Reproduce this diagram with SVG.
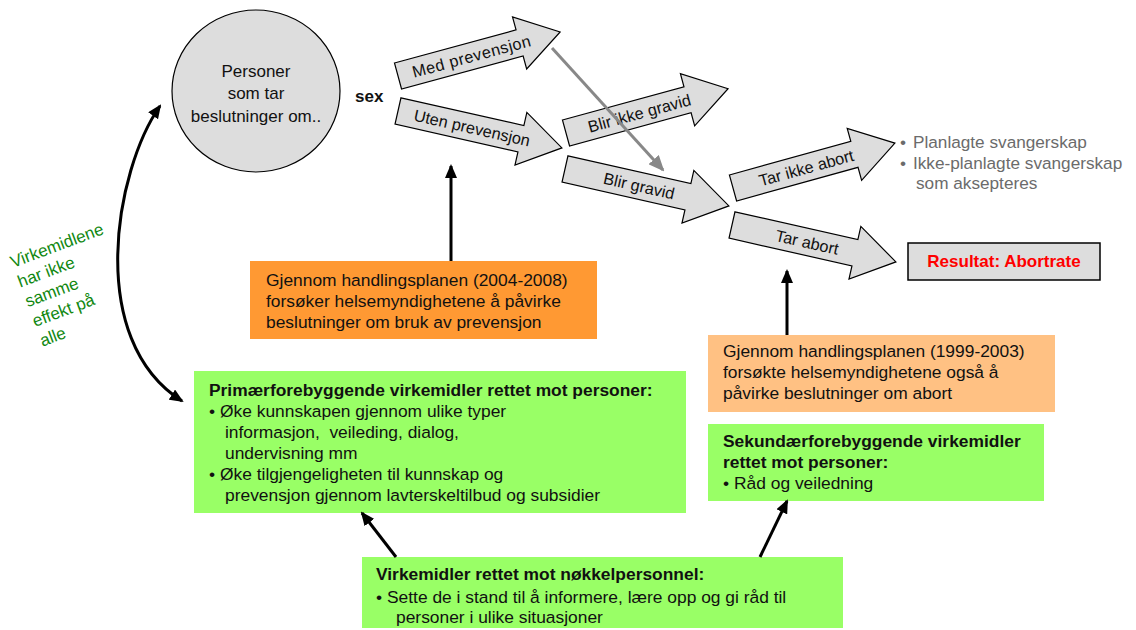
<svg xmlns="http://www.w3.org/2000/svg" width="1136" height="630" viewBox="0 0 1136 630">
<style>
text{font-family:"Liberation Sans",Arial,sans-serif;fill:#111}
.b{font-size:17.4px}
.bb{font-size:17.4px;font-weight:bold}
.at{font-size:16.3px;text-anchor:middle}
.ar{fill:#dddddd;stroke:#000;stroke-width:1.2}
.cn{fill:none;stroke:#000;stroke-width:3}
.gr{fill:#6b6b6b;font-size:17.2px}
</style>
<defs>
<path id="ba" d="M0,-13.5 L126,-13.5 L126,-27 L168,0 L126,27 L126,13.5 L0,13.5 Z"/>
<marker id="mh" viewBox="0 0 14 12" refX="12" refY="6" markerWidth="14" markerHeight="12" markerUnits="userSpaceOnUse" orient="auto-start-reverse">
<path d="M0,0 L14,6 L0,12 Z" fill="#000"/>
</marker>
<marker id="mg" viewBox="0 0 16 14" refX="14" refY="7" markerWidth="16" markerHeight="14" markerUnits="userSpaceOnUse" orient="auto">
<path d="M0,0 L16,7 L0,14 Z" fill="#888"/>
</marker>
</defs>

<g id="personer">
<ellipse cx="256" cy="91" rx="84" ry="81" fill="#dddddd" stroke="#000" stroke-width="1.2"/>
<text x="256" y="77" font-size="17" text-anchor="middle">Personer</text>
<text x="256" y="99" font-size="17" text-anchor="middle">som tar</text>
<text x="256" y="122" font-size="17" text-anchor="middle">beslutninger om..</text>
</g>

<g id="sex"><text x="355" y="102" font-size="17" font-weight="bold">sex</text></g>

<g id="med-prevensjon" transform="translate(398,76) rotate(-15.2)">
<use href="#ba" class="ar"/><text class="at" x="76" y="6" textLength="122">Med prevensjon</text>
</g>
<g id="uten-prevensjon" transform="translate(398,111) rotate(12.7)">
<use href="#ba" class="ar"/><text class="at" x="76" y="6">Uten prevensjon</text>
</g>
<g id="blir-ikke-gravid" transform="translate(566,133) rotate(-15.3)">
<use href="#ba" class="ar"/><text class="at" x="76" y="6">Blir ikke gravid</text>
</g>
<g id="blir-gravid" transform="translate(565,169) rotate(12.7)">
<use href="#ba" class="ar"/><text class="at" x="76" y="6">Blir gravid</text>
</g>
<g id="tar-ikke-abort" transform="translate(733,188) rotate(-15.5)">
<use href="#ba" class="ar"/><text class="at" x="76" y="6">Tar ikke abort</text>
</g>
<g id="tar-abort" transform="translate(732,225) rotate(12.7)">
<use href="#ba" class="ar"/><text class="at" x="77" y="6">Tar abort</text>
</g>

<g id="utfall">
<text class="gr" x="900" y="148">• <tspan x="913">Planlagte svangerskap</tspan></text>
<text class="gr" x="900" y="169">• <tspan x="913">Ikke-planlagte svangerskap</tspan></text>
<text class="gr" x="916" y="189">som aksepteres</text>
</g>

<g id="resultat">
<rect x="908" y="243" width="192" height="37" fill="#dddddd" stroke="#000" stroke-width="1.5"/>
<text x="1004" y="267" font-size="17" font-weight="bold" text-anchor="middle" style="fill:#ff0000">Resultat: Abortrate</text>
</g>

<g id="handlingsplan-2004">
<rect x="250" y="261" width="347" height="78" fill="#ff9933"/>
<text class="b" x="266" y="286">Gjennom handlingsplanen (2004-2008)</text>
<text class="b" x="266" y="307">forsøker helsemyndighetene å påvirke</text>
<text class="b" x="266" y="328">beslutninger om bruk av prevensjon</text>
</g>

<g id="handlingsplan-1999">
<rect x="708" y="335" width="347" height="77" fill="#ffc183"/>
<text class="b" x="723" y="357">Gjennom handlingsplanen (1999-2003)</text>
<text class="b" x="723" y="378">forsøkte helsemyndighetene også å</text>
<text class="b" x="723" y="399">påvirke beslutninger om abort</text>
</g>

<g id="primaer">
<rect x="194" y="371" width="492" height="142" fill="#99ff66"/>
<text class="bb" x="209" y="396">Primærforebyggende virkemidler rettet mot personer:</text>
<text class="b" x="209" y="417">• <tspan x="220">Øke kunnskapen gjennom ulike typer</tspan></text>
<text class="b" x="225" y="438" xml:space="preserve">informasjon,  veileding, dialog,</text>
<text class="b" x="225" y="459">undervisning mm</text>
<text class="b" x="209" y="480">• <tspan x="220">Øke tilgjengeligheten til kunnskap og</tspan></text>
<text class="b" x="225" y="501">prevensjon gjennom lavterskeltilbud og subsidier</text>
</g>

<g id="sekundaer">
<rect x="708" y="424" width="336" height="77" fill="#99ff66"/>
<text class="bb" x="723" y="447">Sekundærforebyggende virkemidler</text>
<text class="bb" x="723" y="468">rettet mot personer:</text>
<text class="b" x="723" y="489">• <tspan x="734">Råd og veiledning</tspan></text>
</g>

<g id="noekkelpersonnel">
<rect x="362" y="557" width="481" height="71" fill="#99ff66"/>
<text class="bb" x="376" y="580">Virkemidler rettet mot nøkkelpersonnel:</text>
<text class="b" x="376" y="603">• <tspan x="387">Sette de i stand til å informere, lære opp og gi råd til</tspan></text>
<text class="b" x="396" y="623">personer i ulike situasjoner</text>
</g>

<g id="virkemidlene-note" transform="translate(13,268) rotate(-20.5)">
<text font-size="17" style="fill:#118811">
<tspan x="0" y="0">Virkemidlene</tspan>
<tspan x="0" y="21">har ikke</tspan>
<tspan x="0" y="42">samme</tspan>
<tspan x="0" y="63">effekt på</tspan>
<tspan x="0" y="84">alle</tspan>
</text>
</g>

<g id="connectors">
<line x1="552" y1="48" x2="663" y2="170" stroke="#888" stroke-width="3" marker-end="url(#mg)"/>
<path class="cn" d="M160,106 C115,170 85,340 182,401" marker-start="url(#mh)" marker-end="url(#mh)"/>
<line class="cn" x1="451" y1="261" x2="451" y2="166" marker-end="url(#mh)"/>
<line class="cn" x1="787" y1="335" x2="787" y2="271" marker-end="url(#mh)"/>
<line class="cn" x1="396" y1="557" x2="362" y2="513" marker-end="url(#mh)"/>
<line class="cn" x1="760" y1="557" x2="787" y2="501" marker-end="url(#mh)"/>
</g>
</svg>
